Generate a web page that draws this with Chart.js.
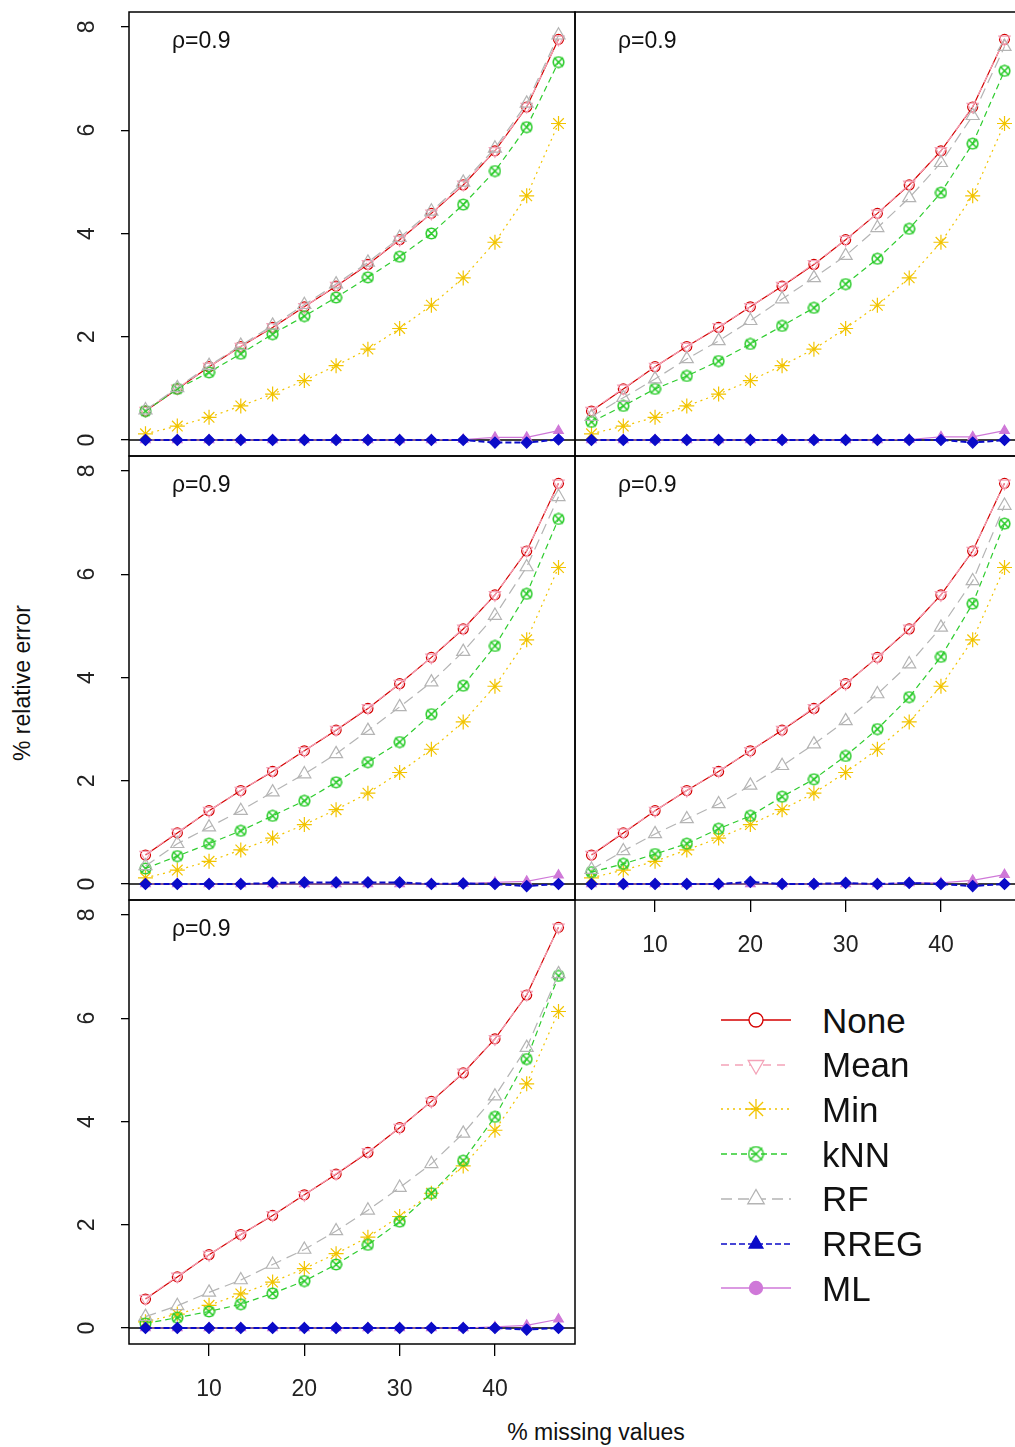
<!DOCTYPE html>
<html>
<head>
<meta charset="utf-8">
<script src="https://cdn.jsdelivr.net/npm/chart.js@4.4.1/dist/chart.umd.min.js"></script>
<style>
  html, body { margin: 0; padding: 0; background: #fff; overflow: hidden; }
  #page { position: relative; width: 1015px; height: 1447px; overflow: hidden;
          font-family: "Liberation Sans", Arial, sans-serif; color: #111; }
  #page canvas.panel { position: absolute; }
  .plabel { position: absolute; font-size: 23px; line-height: 1; white-space: nowrap; }
  .ytitle { position: absolute; left: 22px; top: 683px; font-size: 23px; white-space: nowrap;
            transform: translate(-50%, -50%) rotate(-90deg); }
  .xtitle { position: absolute; left: 596px; top: 1432px; font-size: 23px; white-space: nowrap;
            transform: translate(-50%, -50%); }
  .lrow { position: absolute; left: 716px; height: 44px; display: flex; align-items: center; }
  .lrow canvas { margin-right: 26px; }
  .lrow span { font-size: 35px; line-height: 1; }
</style>
</head>
<body>
<div id="page">
  <div class="ytitle">% relative error</div>
  <div class="xtitle">% missing values</div>
</div>
<script>
// x positions (% missing) and axis ticks
const xValues = [3.33, 6.67, 10, 13.33, 16.67, 20, 23.33, 26.67, 30, 33.33, 36.67, 40, 43.33, 46.67];
const xTicks = [10, 20, 30, 40];
const yTicks = [0, 2, 4, 6, 8];
const methods = ["None", "Mean", "Min", "kNN", "RF", "RREG", "ML"];
const panelLabel = "ρ=0.9";

// None, Mean and Min look the same in every panel
const noneErr = [0.56, 0.99, 1.42, 1.81, 2.18, 2.58, 2.98, 3.40, 3.88, 4.39, 4.94, 5.60, 6.45, 7.76];
const meanErr = [0.57, 1.00, 1.42, 1.81, 2.19, 2.58, 2.99, 3.41, 3.88, 4.39, 4.95, 5.60, 6.46, 7.76];
const minErr  = [0.12, 0.27, 0.44, 0.66, 0.89, 1.15, 1.44, 1.76, 2.16, 2.61, 3.14, 3.83, 4.73, 6.13];

// panel 1 (top left)
const knnP1  = [0.56, 0.99, 1.31, 1.67, 2.05, 2.40, 2.76, 3.15, 3.55, 4.00, 4.56, 5.21, 6.06, 7.32];
const rfP1   = [0.58, 1.01, 1.44, 1.83, 2.22, 2.62, 3.02, 3.44, 3.92, 4.43, 4.99, 5.65, 6.52, 7.84];
const rregP1 = [0, 0, 0, 0, 0, 0, 0, 0, 0, 0, 0, -0.05, -0.05, 0.01];
const mlP1   = [0, 0, 0, 0, 0, 0, 0, 0, 0, 0, 0.01, 0.05, 0.05, 0.18];
// panel 2 (top right)
const knnP2  = [0.35, 0.66, 0.99, 1.24, 1.53, 1.86, 2.21, 2.56, 3.02, 3.51, 4.09, 4.79, 5.74, 7.15];
const rfP2   = [0.45, 0.82, 1.18, 1.57, 1.92, 2.31, 2.73, 3.14, 3.57, 4.11, 4.69, 5.37, 6.28, 7.62];
const rregP2 = [0, 0, 0, 0, 0, 0, 0, 0, 0, 0, 0, 0, -0.05, 0];
const mlP2   = [0, 0, 0, 0, 0, 0, 0, 0, 0, 0, 0.01, 0.06, 0.06, 0.18];
// panel 3 (middle left)
const knnP3  = [0.30, 0.54, 0.78, 1.03, 1.32, 1.61, 1.97, 2.36, 2.75, 3.29, 3.84, 4.61, 5.62, 7.07];
const rfP3   = [0.35, 0.78, 1.10, 1.42, 1.78, 2.13, 2.52, 2.97, 3.43, 3.91, 4.50, 5.20, 6.14, 7.50];
const rregP3 = [0, 0, 0, 0, 0.02, 0.03, 0.03, 0.03, 0.03, 0, 0.01, 0, -0.04, 0];
const mlP3   = [0, 0, 0, 0, 0, 0, 0, 0, 0, 0, 0.01, 0.03, 0.05, 0.17];
// panel 4 (middle right)
const knnP4  = [0.23, 0.39, 0.58, 0.78, 1.07, 1.32, 1.69, 2.03, 2.48, 3.00, 3.62, 4.40, 5.43, 6.98];
const rfP4   = [0.28, 0.64, 0.97, 1.26, 1.55, 1.91, 2.29, 2.71, 3.16, 3.68, 4.26, 4.97, 5.87, 7.33];
const rregP4 = [0, 0, 0, 0, 0, 0.04, 0, 0, 0.02, 0, 0.02, 0, -0.04, 0];
const mlP4   = [0, 0, 0, 0, 0, 0, 0, 0, 0, 0, 0.02, 0.02, 0.07, 0.18];
// panel 5 (bottom left)
const knnP5  = [0.09, 0.20, 0.32, 0.46, 0.67, 0.91, 1.23, 1.61, 2.06, 2.61, 3.24, 4.09, 5.21, 6.82];
const rfP5   = [0.22, 0.43, 0.69, 0.93, 1.23, 1.52, 1.88, 2.28, 2.72, 3.18, 3.77, 4.49, 5.43, 6.86];
const rregP5 = [0, 0, 0, 0, 0, 0, 0, 0, 0, 0, 0, 0, -0.03, 0];
const mlP5   = [0, 0, 0, 0, 0, 0, 0, 0, 0, 0, 0, 0.02, 0.05, 0.17];

const FONT = '"Liberation Sans", Arial, sans-serif';
const X_MIN = 1.6, X_MAX = 48.4, Y_MIN = -0.31, Y_MAX = 8.29;

const colors = { None: "#d40000", Mean: "#f4a3b8", Min: "#f2c400", kNN: "#2ecc2e",
                 RF: "#b4b4b4", RREG: "#0b0bc8", ML: "#cf78d8" };
const dashes = { None: [], Mean: [8, 6], Min: [2, 4], kNN: [6, 4], RF: [11, 6], RREG: [6, 3], ML: [] };

// circle with an x through it (R pch 13)
function knnMarker(size, color, lw) {
  const c = document.createElement("canvas");
  c.width = c.height = size;
  const g = c.getContext("2d");
  const m = size / 2, r = m - 1.2, d = r * 0.85;
  g.strokeStyle = color;
  g.lineWidth = lw;
  g.beginPath();
  g.arc(m, m, r, 0, Math.PI * 2);
  g.moveTo(m - d, m - d); g.lineTo(m + d, m + d);
  g.moveTo(m + d, m - d); g.lineTo(m - d, m + d);
  g.stroke();
  return c;
}

const markers = {
  None: { style: "circle", radius: 5 },
  Mean: { style: "triangle", radius: 6.5, rotation: 180 },
  Min:  { style: "star", radius: 7.5 },
  kNN:  { style: knnMarker(13, colors.kNN, 1.6), radius: 6.5 },
  RF:   { style: "triangle", radius: 7.5 },
  RREG: { style: "rectRot", radius: 5.5, filled: true },
  ML:   { style: "triangle", radius: 5.5, filled: true }
};
const legendMarkers = {
  None: { style: "circle", radius: 7 },
  Mean: { style: "triangle", radius: 9, rotation: 180 },
  Min:  { style: "star", radius: 10 },
  kNN:  { style: knnMarker(17, colors.kNN, 1.5), radius: 8.5 },
  RF:   { style: "triangle", radius: 9.5 },
  RREG: { style: "triangle", radius: 8, filled: true },
  ML:   { style: "circle", radius: 6.5, filled: true }
};

const panels = [
  { left: 0,   top: 8,   yAxis: true,  xAxis: false, knn: knnP1, rf: rfP1, rreg: rregP1, ml: mlP1 },
  { left: 571, top: 8,   yAxis: false, xAxis: false, knn: knnP2, rf: rfP2, rreg: rregP2, ml: mlP2 },
  { left: 0,   top: 452, yAxis: true,  xAxis: false, knn: knnP3, rf: rfP3, rreg: rregP3, ml: mlP3 },
  { left: 571, top: 452, yAxis: false, xAxis: true,  knn: knnP4, rf: rfP4, rreg: rregP4, ml: mlP4 },
  { left: 0,   top: 896, yAxis: true,  xAxis: true,  knn: knnP5, rf: rfP5, rreg: rregP5, ml: mlP5 }
];

const framePlugin = {
  id: "frame",
  beforeDatasetsDraw(chart) {
    const { ctx, chartArea: a, scales: { y } } = chart;
    const y0 = y.getPixelForValue(0);
    ctx.save();
    ctx.strokeStyle = "#000";
    ctx.lineWidth = 1.5;
    ctx.beginPath();
    ctx.moveTo(a.left, y0);
    ctx.lineTo(a.right, y0);
    ctx.stroke();
    ctx.restore();
  },
  afterDatasetsDraw(chart) {
    const { ctx, chartArea: a } = chart;
    ctx.save();
    ctx.strokeStyle = "#000";
    ctx.lineWidth = 1.5;
    ctx.strokeRect(a.left, a.top, a.right - a.left, a.bottom - a.top);
    ctx.restore();
  }
};

function buildDatasets(p) {
  const series = [noneErr, meanErr, minErr, p.knn, p.rf, p.rreg, p.ml];
  return methods.map((m, i) => {
    const mk = markers[m];
    return {
      label: m,
      data: xValues.map((x, k) => ({ x: x, y: series[i][k] })),
      showLine: true,
      borderColor: colors[m],
      borderWidth: m === "RREG" ? 2 : 1.2,
      borderDash: dashes[m],
      pointStyle: mk.style,
      pointRadius: mk.radius,
      pointRotation: mk.rotation || 0,
      pointBorderColor: colors[m],
      pointBackgroundColor: mk.filled ? colors[m] : "rgba(0,0,0,0)",
      pointBorderWidth: 1.2,
      // later methods drawn on top, RREG above everything
      order: m === "RREG" ? 0 : methods.length - i
    };
  });
}

const page = document.getElementById("page");
const tickFont = { family: FONT, size: 23 };

panels.forEach((p) => {
  const canvas = document.createElement("canvas");
  canvas.className = "panel";
  const yW = p.yAxis ? 129 : 0;
  const xH = p.xAxis ? 70 : 0;
  canvas.width = (p.yAxis ? 129 : 4) + 446 + 4;
  canvas.height = 4 + 444 + (p.xAxis ? 70 : 4);
  canvas.style.left = p.left + "px";
  canvas.style.top = p.top + "px";
  page.appendChild(canvas);

  new Chart(canvas, {
    type: "scatter",
    data: { datasets: buildDatasets(p) },
    options: {
      responsive: false,
      animation: false,
      devicePixelRatio: 1,
      layout: { autoPadding: false,
                padding: { top: 4, right: 4, left: p.yAxis ? 0 : 4, bottom: p.xAxis ? 0 : 4 } },
      plugins: { legend: { display: false }, tooltip: { enabled: false } },
      scales: {
        x: {
          type: "linear",
          min: X_MIN, max: X_MAX,
          display: p.xAxis,
          afterBuildTicks: (s) => { s.ticks = xTicks.map((v) => ({ value: v })); },
          afterFit: (s) => { s.height = xH; s.paddingLeft = 0; s.paddingRight = 0; },
          grid: { drawOnChartArea: false, tickLength: 12, color: "#000", lineWidth: 1.3 },
          border: { display: false },
          ticks: { color: "#222", font: tickFont, padding: 20, maxRotation: 0 }
        },
        y: {
          type: "linear",
          min: Y_MIN, max: Y_MAX,
          display: p.yAxis,
          afterBuildTicks: (s) => { s.ticks = yTicks.map((v) => ({ value: v })); },
          afterFit: (s) => { s.width = yW; s.paddingTop = 0; s.paddingBottom = 0; },
          grid: { drawOnChartArea: false, tickLength: 8, color: "#000", lineWidth: 1.3 },
          border: { display: false },
          ticks: { color: "#222", font: tickFont, padding: 27, minRotation: 90, maxRotation: 90,
                   crossAlign: "center" }
        }
      }
    },
    plugins: [framePlugin]
  });

  const lab = document.createElement("div");
  lab.className = "plabel";
  lab.textContent = panelLabel;
  lab.style.left = (p.left + (p.yAxis ? 129 : 4) + 43) + "px";
  lab.style.top = (p.top + 4 + 17) + "px";
  page.appendChild(lab);
});

// legend in the empty bottom-right cell
methods.forEach((m, i) => {
  const row = document.createElement("div");
  row.className = "lrow";
  row.style.top = (998 + i * 44.7) + "px";
  const c = document.createElement("canvas");
  c.width = 80; c.height = 40;
  const g = c.getContext("2d");
  g.strokeStyle = colors[m];
  g.lineWidth = 1.3;
  g.setLineDash(dashes[m]);
  g.beginPath(); g.moveTo(5, 20); g.lineTo(75, 20); g.stroke();
  g.setLineDash([]);
  const mk = legendMarkers[m];
  g.fillStyle = mk.filled ? colors[m] : "#fff";
  g.strokeStyle = colors[m];
  g.lineWidth = 1.3;
  Chart.helpers.drawPoint(g, { pointStyle: mk.style, rotation: mk.rotation || 0, radius: mk.radius, borderWidth: 1.3 }, 40, 20);
  const t = document.createElement("span");
  t.textContent = m;
  row.appendChild(c);
  row.appendChild(t);
  page.appendChild(row);
});
</script>
</body>
</html>
